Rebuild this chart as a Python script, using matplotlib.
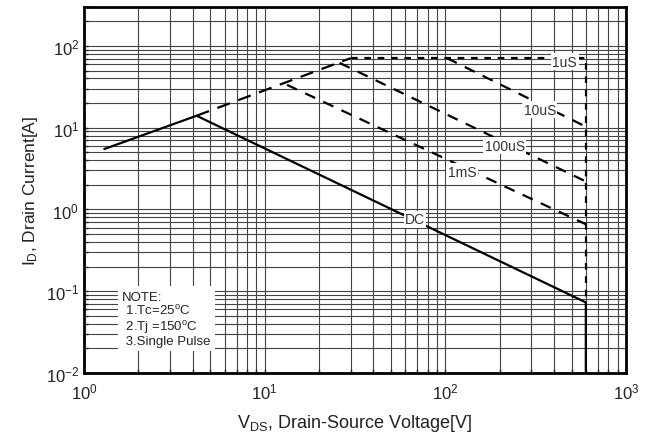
import matplotlib
matplotlib.use("Agg")
import matplotlib.pyplot as plt
from matplotlib.ticker import LogLocator, NullFormatter

plt.rcParams['font.family'] = ['Liberation Sans', 'DejaVu Sans']
plt.rcParams['mathtext.fontset'] = 'custom'
plt.rcParams['mathtext.rm'] = 'Liberation Sans'
plt.rcParams['mathtext.it'] = 'Liberation Sans'
plt.rcParams['axes.unicode_minus'] = False

# safe operating area
dc_v = [1.3, 4.2, 600, 600]
dc_i = [5.5, 14, 0.073, 0.01]
limit_v = [4.2, 30]
limit_i = [14, 71]
us1_v = [30, 600, 600]
us1_i = [71, 71, 0.073]
us10_v = [102, 600]
us10_i = [71, 10.3]
us100_v = [26, 600]
us100_i = [62, 2.2]
ms1_v = [13.3, 600]
ms1_i = [33.4, 0.66]

labels = ['1uS', '10uS', '100uS', '1mS', 'DC']
label_v = [459, 334, 214, 124, 68]
label_i = [64, 16.6, 6.0, 2.9, 0.755]

fig = plt.figure(figsize=(6.49, 4.39), dpi=100)
ax = fig.add_axes([0.1294, 0.148, 0.835, 0.834])
ax.set_xscale('log')
ax.set_yscale('log')
ax.set_xlim(1, 1000)
ax.set_ylim(0.01, 300)

ax.xaxis.set_major_locator(LogLocator(base=10, numticks=10))
ax.xaxis.set_minor_locator(LogLocator(base=10, subs=range(2, 10), numticks=20))
ax.yaxis.set_major_locator(LogLocator(base=10, numticks=10))
ax.yaxis.set_minor_locator(LogLocator(base=10, subs=range(2, 10), numticks=20))
ax.xaxis.set_minor_formatter(NullFormatter())
ax.yaxis.set_minor_formatter(NullFormatter())
ax.grid(True, which='both', color='#444444', linewidth=0.8)
ax.tick_params(which='both', direction='in', length=3, width=1, labelsize=12, colors='#222222')
ax.tick_params(axis='x', which='major', pad=6)
for s in ax.spines.values():
    s.set_linewidth(2)
    s.set_color('black')

ax.plot(dc_v, dc_i, color='black', lw=1.6, zorder=3)
ax.plot(limit_v, limit_i, color='black', lw=1.6, dashes=(6, 4), zorder=3)
ax.plot(us1_v, us1_i, color='black', lw=1.6, dashes=(3, 3), zorder=3)
ax.plot(us10_v, us10_i, color='black', lw=1.6, dashes=(5, 4), zorder=3)
ax.plot(us100_v, us100_i, color='black', lw=1.6, dashes=(5, 4), zorder=3)
ax.plot(ms1_v, ms1_i, color='black', lw=1.6, dashes=(5, 4), zorder=3)

for t, v, i in zip(labels, label_v, label_i):
    ax.text(v, i, t, fontsize=10, color='#333333', ha='center', va='center', zorder=4,
            bbox=dict(facecolor='white', edgecolor='none', pad=1))

ax.text(0.07, 0.225, 'NOTE:\n 1.Tc=25$^{\\mathrm{o}}$C\n 2.Tj =150$^{\\mathrm{o}}$C\n 3.Single Pulse',
        transform=ax.transAxes, fontsize=9.5, color='#222222', ha='left', va='top',
        linespacing=1.05, zorder=4,
        bbox=dict(facecolor='white', edgecolor='none', pad=3))

ax.set_xlabel('V$_{\\mathrm{DS}}$, Drain-Source Voltage[V]', fontsize=13, color='#222222', labelpad=8)
ax.set_ylabel('I$_{\\mathrm{D}}$, Drain Current[A]', fontsize=12.5, color='#222222', labelpad=4)

fig.savefig('out.png', dpi=100)
